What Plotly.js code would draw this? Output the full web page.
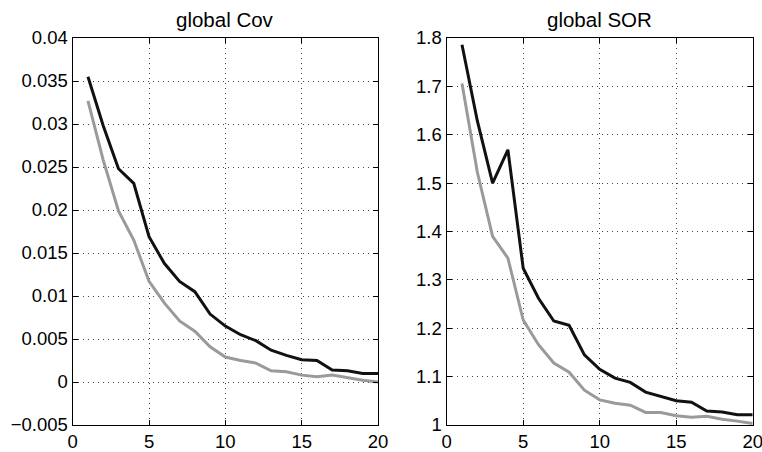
<!DOCTYPE html>
<html>
<head>
<meta charset="utf-8">
<script src="https://cdn.plot.ly/plotly-3.0.1.min.js"></script>
<style>html,body{margin:0;padding:0;background:#fff}#chart{width:762px;height:452px}</style>
</head>
<body>
<div id="chart"></div>
<script>
const iterations = [1,2,3,4,5,6,7,8,9,10,11,12,13,14,15,16,17,18,19,20];
const covBlack = [0.0355,0.0298,0.0248,0.0231,0.0169,0.0138,0.0117,0.0105,0.0079,0.0065,0.0055,0.0048,0.0037,0.0031,0.0026,0.0025,0.0014,0.0013,0.0010,0.0010];
const covGray  = [0.0327,0.0258,0.0199,0.0165,0.0117,0.0092,0.0071,0.0059,0.0041,0.0029,0.0025,0.0022,0.0013,0.0012,0.0008,0.0006,0.0008,0.0005,0.0002,0.0000];
const sorBlack = [1.786,1.629,1.500,1.569,1.324,1.262,1.215,1.206,1.145,1.115,1.097,1.088,1.068,1.059,1.050,1.047,1.029,1.027,1.021,1.021];
const sorGray  = [1.706,1.523,1.390,1.345,1.217,1.166,1.128,1.109,1.072,1.052,1.045,1.041,1.026,1.026,1.019,1.016,1.018,1.012,1.008,1.003];
const titles = ["global Cov", "global SOR"];
const xTicks = [0,5,10,15,20];

const blackC = '#111111', grayC = '#9a9a9a';
const traces = [
  {x: iterations, y: covGray, mode:'lines', line:{color:grayC,width:3}, xaxis:'x', yaxis:'y'},
  {x: iterations, y: covBlack, mode:'lines', line:{color:blackC,width:3}, xaxis:'x', yaxis:'y'},
  {x: iterations, y: sorGray, mode:'lines', line:{color:grayC,width:3}, xaxis:'x2', yaxis:'y2'},
  {x: iterations, y: sorBlack, mode:'lines', line:{color:blackC,width:3}, xaxis:'x2', yaxis:'y2'}
];

const W = 762, H = 452;
const yDom = [1-425/H, 1-38/H];
const tickFont = {family:'Liberation Sans, Arial, sans-serif', size:18.5, color:'#000'};
function xax(dom, anchor){
  return {domain: dom, anchor: anchor, range:[0,20], tickvals: xTicks, ticktext: xTicks.map(String),
    showgrid:true, gridcolor:'#444', griddash:'1px,4px', gridwidth:1, zeroline:false,
    showline:true, mirror:'ticks', linecolor:'#000', linewidth:1.2, ticks:'inside', ticklen:5, tickcolor:'#000',
    tickfont: tickFont, ticklabeloverflow:'allow', fixedrange:true};
}
function yax(dom, anchor, range, dtick, fmt){
  return {domain: dom, anchor: anchor, range: range, dtick: dtick, tick0: range[0], tickformat: fmt,
    showgrid:true, gridcolor:'#444', griddash:'1px,4px', gridwidth:1, zeroline:false,
    showline:true, mirror:'ticks', linecolor:'#000', linewidth:1.2, ticks:'inside', ticklen:5, tickcolor:'#000',
    tickfont: tickFont, ticklabeloverflow:'allow', fixedrange:true};
}
const x1d = [72.7/W, 378/W], x2d = [446.7/W, 752.7/W];
const titleFont = {family:'Liberation Sans, Arial, sans-serif', size:20.5, color:'#000'};
const layout = {
  width: W, height: H, margin:{l:0,r:0,t:0,b:0}, showlegend:false,
  paper_bgcolor:'#fff', plot_bgcolor:'#fff',
  xaxis: xax(x1d, 'y'), yaxis: yax(yDom, 'x', [-0.005,0.04], 0.005, ''),
  xaxis2: xax(x2d, 'y2'), yaxis2: yax(yDom, 'x2', [1,1.8], 0.1, ''),
  annotations: [
    {text: titles[0], x:(x1d[0]+x1d[1])/2, y:1-19/H, xref:'paper', yref:'paper', showarrow:false, xanchor:'center', yanchor:'middle', font:titleFont},
    {text: titles[1], x:(x2d[0]+x2d[1])/2, y:1-19/H, xref:'paper', yref:'paper', showarrow:false, xanchor:'center', yanchor:'middle', font:titleFont}
  ]
};
Plotly.newPlot('chart', traces, layout, {staticPlot:true, displayModeBar:false});
</script>
</body>
</html>
